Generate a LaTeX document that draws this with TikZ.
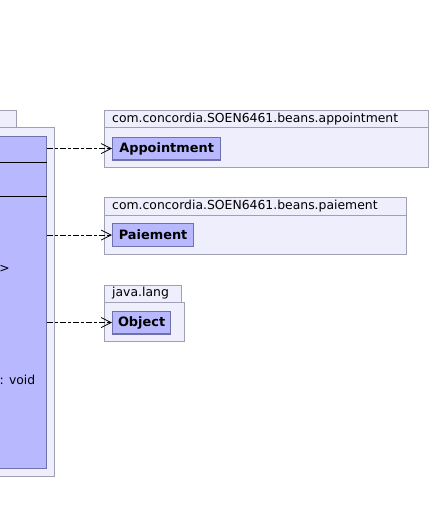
\documentclass[tikz,border=0pt]{standalone}
\usepackage{fontspec}
\setmainfont{DejaVu Sans}
\usetikzlibrary{arrows.meta}
\definecolor{pkgfill}{RGB}{238,238,252}
\definecolor{pkgline}{RGB}{160,160,180}
\definecolor{clsfill}{RGB}{184,184,255}
\definecolor{clsline}{RGB}{112,112,170}
\begin{document}
\begin{tikzpicture}[x=1pt,y=-1pt,
 pkg/.style={draw=pkgline, fill=pkgfill, line width=1pt},
 cls/.style={draw=clsline, fill=clsfill, line width=1.2pt, inner sep=0pt, anchor=north west},
 plabel/.style={font=\fontsize{12.4}{14}\selectfont, anchor=west, inner sep=0pt},
 clabel/.style={font=\fontsize{12.9}{15}\selectfont\bfseries, inner sep=0pt},
 mtext/.style={font=\fontsize{12.4}{14}\selectfont, anchor=east, inner sep=0pt},
 dep/.style={line width=0.8pt, dash pattern=on 6pt off 2pt on 3pt off 2pt, -{Straight Barb[length=10pt,width=10pt]}}
]
\useasboundingbox (0,0) rectangle (431,514);
\clip (0,0) rectangle (431,514);
% left package
\draw[pkg] (-30,110) rectangle (16,127);
\draw[pkg] (-30,127) rectangle (54,476);
\node[cls, minimum width=76pt, minimum height=332pt] (mgr) at (-30,136) {};
\draw[line width=1pt] (-30,162) -- (mgr.east |- 0,162);
\draw[line width=1pt] (-30,196) -- (mgr.east |- 0,196);
\node[mtext] (m1) at (10,269) {>};
\node[mtext] (m2) at (35.5,380) {: void};
% appointment package
\draw[pkg] (104,110) rectangle (428,167);
\draw[pkgline, line width=1pt] (104,127.5) -- (428,127.5);
\node[plabel] (l1) at (112,119) {com.concordia.SOEN6461.beans.appointment};
\node[cls, minimum width=108pt, minimum height=22.6pt] (app) at (112,136.7) {};
\node[clabel] at (app.center) {Appointment};
% paiement package
\draw[pkg] (104,197) rectangle (406,254);
\draw[pkgline, line width=1pt] (104,215) -- (406,215);
\node[plabel] (l2) at (112,206) {com.concordia.SOEN6461.beans.paiement};
\node[cls, minimum width=81pt, minimum height=23pt] (pai) at (112,223) {};
\node[clabel] at (pai.center) {Paiement};
% java.lang package
\draw[pkg] (104,285) rectangle (181,302);
\draw[pkg] (104,302) rectangle (184,341);
\node[plabel] (l3) at (112,293.5) {java.lang};
\node[cls, minimum width=58pt, minimum height=22.6pt] (obj) at (112,310.7) {};
\node[clabel] at (obj.center) {Object};
% dependencies
\draw[dep] (mgr.east |- app.west) -- (app.west);
\draw[dep] (mgr.east |- pai.west) -- (pai.west);
\draw[dep] (mgr.east |- obj.west) -- (obj.west);
\end{tikzpicture}
\end{document}
